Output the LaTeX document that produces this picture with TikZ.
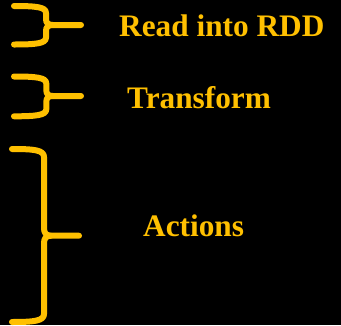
\documentclass[tikz,border=0pt]{standalone}
\usepackage{fontspec}
\setmainfont{Liberation Serif}
\definecolor{gold}{HTML}{FFC000}
\begin{document}
\begin{tikzpicture}[x=1pt,y=-1pt,
  bracepath/.style={draw=gold,line width=6pt,line cap=round,line join=round},
  label/.style={text=gold,font=\fontsize{31.3}{31.3}\selectfont\bfseries,inner sep=0pt,anchor=base west}]
\fill[black] (0,0) rectangle (341,325);
\useasboundingbox (0,0) rectangle (341,325);
% brace 1
\coordinate (t1) at (81,25);
\draw[bracepath] (14,6) .. controls (36,6) and (46,7) .. (46,13) -- (46,19)
  .. controls (46,23) and (48,25) .. (53,25) -- (t1);
\draw[bracepath] (14,44.5) .. controls (36,44.5) and (46,43.5) .. (46,37.5) -- (46,31)
  .. controls (46,27) and (48,25) .. (53,25);
% brace 2
\coordinate (t2) at (81,96);
\draw[bracepath] (14,76.5) .. controls (36,76.5) and (46.3,77.5) .. (46.3,83.5) -- (46.3,90)
  .. controls (46.3,94) and (48,96) .. (53,96) -- (t2);
\draw[bracepath] (14,116.3) .. controls (36,116.3) and (46.3,115.3) .. (46.3,109.3) -- (46.3,102)
  .. controls (46.3,98) and (48,96) .. (53,96);
% brace 3
\coordinate (t3) at (79,235.7);
\draw[bracepath] (12,149) .. controls (34,149) and (44,150) .. (44,157) -- (44,228)
  .. controls (44,233) and (46,235.7) .. (51,235.7) -- (t3);
\draw[bracepath] (12,322) .. controls (34,322) and (44,321) .. (44,314) -- (44,243)
  .. controls (44,238.5) and (46,235.7) .. (51,235.7);
% labels
\node[label] (l1) at (119,36) {Read into RDD};
\node[label] (l2) at (127,108) {Transform};
\node[label] (l3) at (143,236) {Actions};
\end{tikzpicture}
\end{document}
